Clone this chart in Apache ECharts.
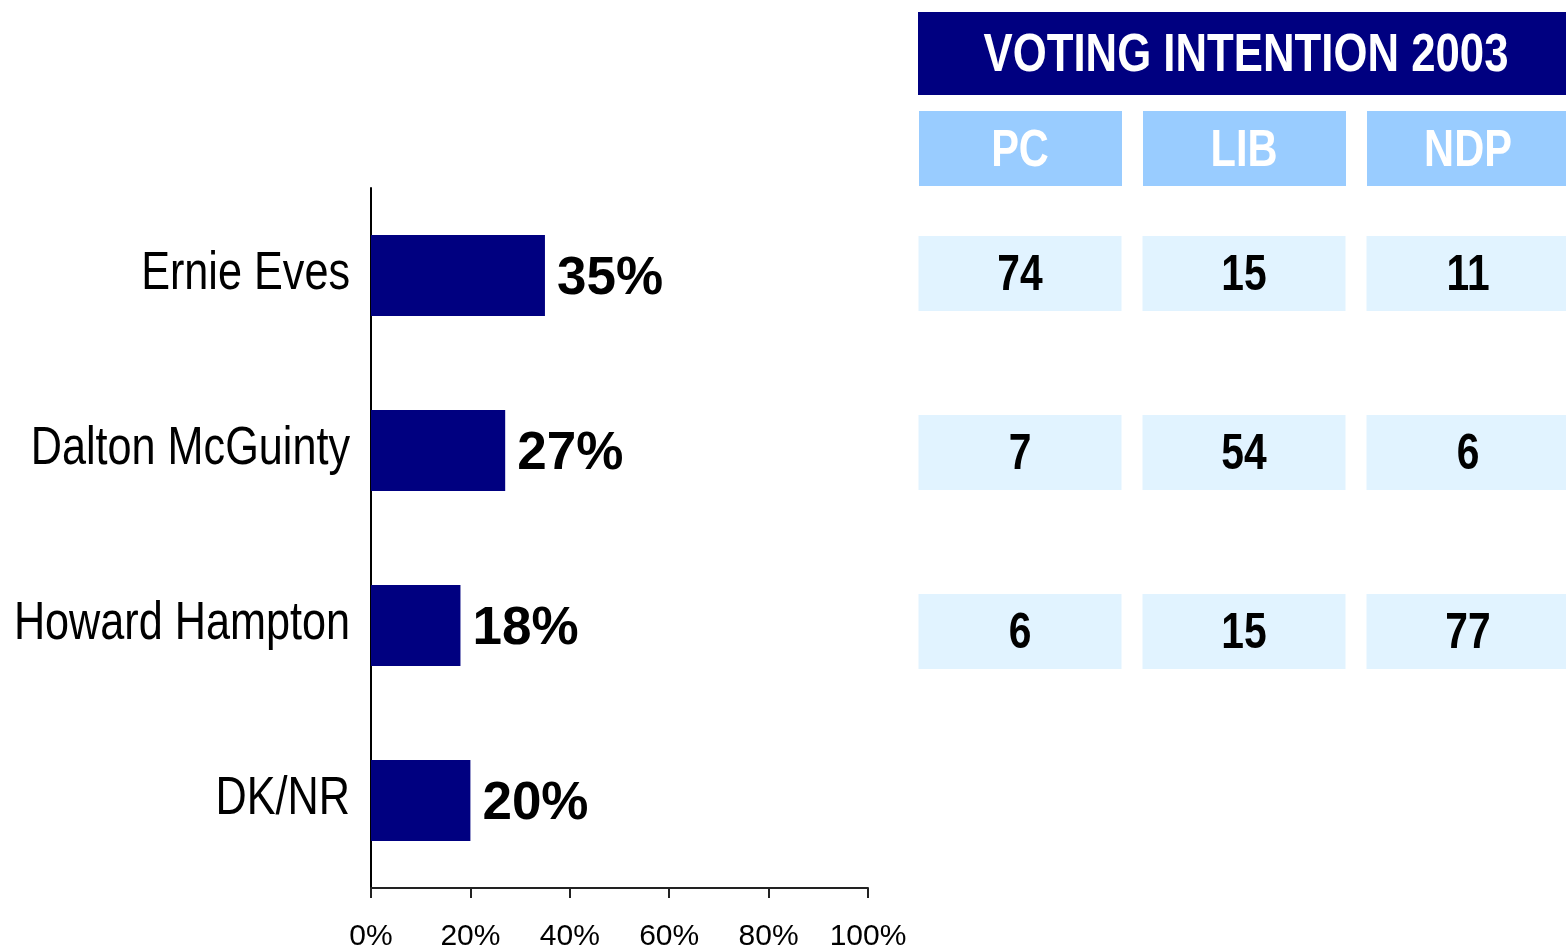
<!DOCTYPE html>
<html>
<head>
<meta charset="utf-8">
<title>Voting intention 2003</title>
<script src="https://cdn.jsdelivr.net/npm/echarts@6/dist/echarts.min.js"></script>
<style>
  html, body { margin: 0; padding: 0; background: #fff; }
  #chart { width: 1566px; height: 948px; }
</style>
</head>
<body>
<div id="chart"></div>
<script>
// data
const candidates = ['Ernie Eves', 'Dalton McGuinty', 'Howard Hampton', 'DK/NR']
const support = [35, 27, 18, 20]
const xTicks = [0, 20, 40, 60, 80, 100]

const title = 'VOTING INTENTION 2003'
const parties = ['PC', 'LIB', 'NDP']
// vote intention by party, one value per candidate row
const pcRow = [74, 7, 6]
const libRow = [15, 54, 15]
const ndpRow = [11, 6, 77]

const NAVY = '#000080'
const SANS = '"Liberation Sans", Arial, sans-serif'
// no narrow font installed, so squeeze Liberation Sans horizontally
const NARROW_SCALE = 0.815

// table cells [col, row, value]
const cells = []
pcRow.forEach((v, r) => cells.push([0, r, v]))
libRow.forEach((v, r) => cells.push([1, r, v]))
ndpRow.forEach((v, r) => cells.push([2, r, v]))

const chart = echarts.init(document.getElementById('chart'))

// header boxes above the table
const headerGraphics = [
  {type: 'rect', shape: {x: 918, y: 12, width: 648, height: 83}, style: {fill: NAVY}},
  {type: 'text', x: 1246, y: 56, scaleX: 0.81, style: {
    text: title, fill: '#fff', font: 'bold 54px ' + SANS, align: 'center', verticalAlign: 'middle'
  }}
]
parties.forEach((p, i) => {
  headerGraphics.push({type: 'rect', shape: {x: 919 + i * 224, y: 111, width: 203, height: 75}, style: {fill: '#99CCFF'}})
  headerGraphics.push({type: 'text', x: 1020 + i * 224, y: 152, scaleX: NARROW_SCALE, style: {
    text: p, fill: '#fff', font: 'bold 51px ' + SANS, align: 'center', verticalAlign: 'middle'
  }})
})

const option = {
  animation: false,
  backgroundColor: '#fff',
  graphic: headerGraphics,
  grid: [
    {left: 371, right: 698, top: 188, bottom: 60, outerBoundsMode: 'none'},
    {left: 908, right: -14, top: 184, bottom: 48, outerBoundsMode: 'none'}
  ],
  xAxis: [
    {
      type: 'value', gridIndex: 0, min: 0, max: 100, interval: 20,
      axisLine: {show: true, lineStyle: {color: '#222', width: 2}},
      axisTick: {show: true, length: 10, lineStyle: {color: '#222', width: 2}},
      splitLine: {show: false},
      axisLabel: {
        formatter: v => xTicks.includes(v) ? v + '%' : '',
        color: '#000', fontSize: 30, fontFamily: SANS, margin: 34
      }
    },
    {
      type: 'category', gridIndex: 1, data: parties, show: false
    }
  ],
  yAxis: [
    {
      type: 'category', gridIndex: 0, data: candidates, inverse: true,
      axisLine: {show: true, lineStyle: {color: '#000', width: 2}},
      axisTick: {show: false},
      axisLabel: {show: false}
    },
    {
      type: 'category', gridIndex: 1, data: candidates, inverse: true, show: false
    }
  ],
  series: [
    {
      type: 'bar',
      xAxisIndex: 0, yAxisIndex: 0,
      data: support,
      barWidth: 81,
      itemStyle: {color: NAVY},
      label: {
        show: true, position: 'right', distance: 12, offset: [0, 4],
        formatter: '{c}%', color: '#000',
        fontSize: 53, fontWeight: 'bold', fontFamily: SANS
      }
    },
    {
      // candidate names, drawn narrow beside the y axis
      type: 'custom',
      xAxisIndex: 0, yAxisIndex: 0,
      data: candidates.map((n, i) => [0, i]),
      clip: false,
      renderItem: (params, api) => {
        const c = api.coord([api.value(0), api.value(1)])
        return {
          type: 'text', x: c[0] - 21, y: c[1] - 1, scaleX: NARROW_SCALE,
          style: {
            text: candidates[params.dataIndex], fill: '#000', font: '53px ' + SANS,
            align: 'right', verticalAlign: 'middle'
          }
        }
      }
    },
    {
      type: 'custom',
      xAxisIndex: 1, yAxisIndex: 1,
      data: cells,
      clip: false,
      renderItem: (params, api) => {
        const c = api.coord([api.value(0), api.value(1)])
        const s = api.size([1, 1])
        const w = s[0] - 21
        const h = 75
        return {
          type: 'group',
          children: [
            {type: 'rect', shape: {x: c[0] - w / 2, y: c[1] - h / 2, width: w, height: h}, style: {fill: '#E1F3FF'}},
            {type: 'text', x: c[0], y: c[1] + 3, scaleX: NARROW_SCALE, style: {
              text: String(api.value(2)), fill: '#000', font: 'bold 50px ' + SANS,
              align: 'center', verticalAlign: 'middle'
            }}
          ]
        }
      }
    }
  ]
}

chart.setOption(option)
</script>
</body>
</html>
